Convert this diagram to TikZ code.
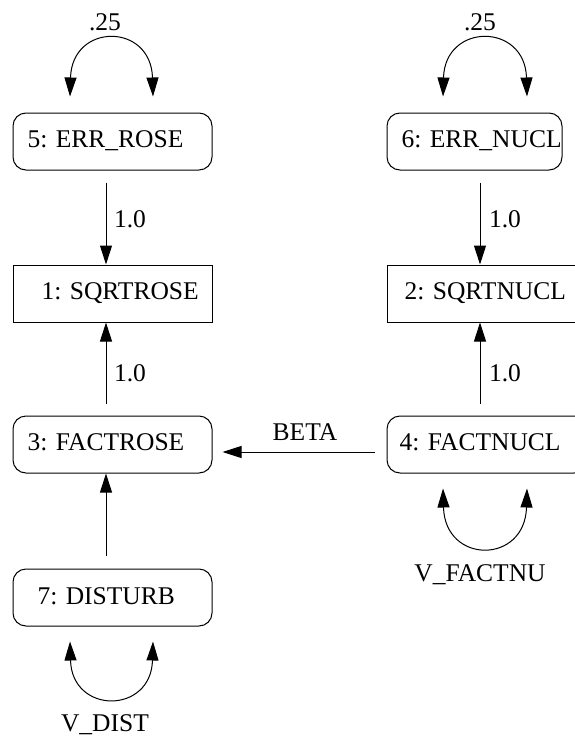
\documentclass[tikz,border=0pt]{standalone}
\usepackage{fontspec}
\setmainfont{Liberation Serif}
\usetikzlibrary{arrows.meta}
\begin{document}
\begin{tikzpicture}[x=1pt,y=-1pt,
  font=\fontsize{25.5}{30}\selectfont,
  line width=1pt,
  rbox/.style={draw, rounded corners=13pt, minimum height=57pt, inner sep=0pt},
  sbox/.style={draw, minimum height=57pt, inner sep=0pt},
  txt/.style={anchor=base west, inner sep=0pt},
  lbl/.style={anchor=base, inner sep=0pt},
  arr/.style={-{Triangle[length=19pt,width=12pt]}},
  dbl/.style={{Triangle[length=19pt,width=12pt]}-{Triangle[length=19pt,width=12pt]}}]
\path[use as bounding box] (0,0) rectangle (575,736);
\clip (0,0) rectangle (575,736);
% boxes
\node[rbox, minimum width=199pt] (b5) at (112.5,141.5) {};
\node[rbox, minimum width=175pt] (b6) at (474.5,141.5) {};
\node[sbox, minimum width=199pt] (b1) at (112.5,293.5) {};
\node[sbox, minimum width=200pt] (b2) at (487,293.5) {};
\node[rbox, minimum width=199pt] (b3) at (112.5,444.5) {};
\node[rbox, minimum width=200pt] (b4) at (487,444.5) {};
\node[rbox, minimum width=199pt] (b7) at (112.5,597.5) {};
% box texts
\node[txt] (t5) at (27,147) {5: ERR\_ROSE};
\node[txt] (t6) at (401,147) {6: ERR\_NUCL};
\node[txt] (t1) at (41,299) {1: SQRTROSE};
\node[txt] (t2) at (404,299) {2: SQRTNUCL};
\node[txt] (t3) at (27,450) {3: FACTROSE};
\node[txt] (t4) at (399,450) {4: FACTNUCL};
\node[txt] (t7) at (37,604) {7: DISTURB};
% path labels
\node[lbl] (l51) at (130,227) {1.0};
\node[lbl] (l62) at (505,227) {1.0};
\node[lbl] (l31) at (130,381) {1.0};
\node[lbl] (l42) at (505,381) {1.0};
\node[lbl] (lbeta) at (305,440) {BETA};
\node[lbl] (v5) at (105,30) {.25};
\node[lbl] (v6) at (480,30) {.25};
\node[lbl] (v4) at (480,581) {V\_FACTNU};
\node[lbl] (v7) at (105,731) {V\_DIST};
% connectors
\draw[arr, shorten <=12pt] ([xshift=-6.5pt]b5.south) -- ([xshift=-6.5pt]b1.north);
\draw[arr, shorten <=12pt] ([xshift=-6.5pt]b3.north) -- ([xshift=-6.5pt]b1.south);
\draw[arr, shorten <=12pt] ([xshift=5.5pt]b6.south) -- ([xshift=-7pt]b2.north);
\draw[arr, shorten <=12pt] ([xshift=-7pt]b4.north) -- ([xshift=-7pt]b2.south);
\draw[arr, shorten <=12pt, shorten >=10pt] ([yshift=-7.5pt]b4.west) -- ([yshift=-7.5pt]b3.east);
\draw[arr, shorten <=13pt] ([xshift=-6.5pt]b7.north) -- ([xshift=-6.5pt]b3.south);
% variance loops
\draw[dbl] ([xshift=-42.5pt,yshift=16pt]b5.north) .. controls +(2,-74) and +(-2,-74) .. ([xshift=40.5pt,yshift=16pt]b5.north);
\draw[dbl] ([xshift=-31.5pt,yshift=16pt]b6.north) .. controls +(2,-74) and +(-2,-74) .. ([xshift=52.5pt,yshift=16pt]b6.north);
\draw[dbl] ([xshift=-44pt,yshift=-15pt]b4.south) .. controls +(2,76) and +(-2,76) .. ([xshift=40pt,yshift=-15pt]b4.south);
\draw[dbl] ([xshift=-42.5pt,yshift=-15pt]b7.south) .. controls +(2,73) and +(-2,73) .. ([xshift=40.5pt,yshift=-15pt]b7.south);
\end{tikzpicture}
\end{document}
